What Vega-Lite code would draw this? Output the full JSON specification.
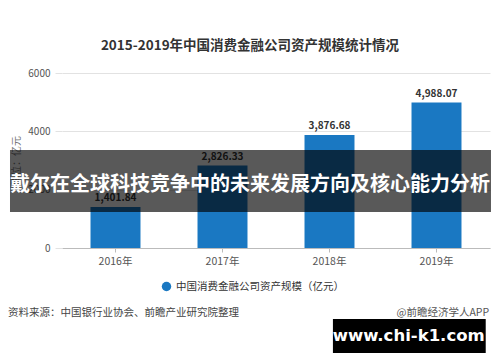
{
  "$schema": "https://vega.github.io/schema/vega-lite/v6.json",
  "width": 428,
  "height": 175,
  "autosize": {"type": "none"},
  "padding": {"left": 62, "top": 73, "right": 10, "bottom": 114},
  "background": "white",
  "config": {
    "view": {"stroke": null},
    "font": "Noto Sans CJK SC"
  },
  "title": {
    "text": "2015-2019年中国消费金融公司资产规模统计情况",
    "fontSize": 13.5,
    "fontWeight": "bold",
    "color": "#333333",
    "anchor": "middle",
    "dx": -26,
    "offset": 16
  },
  "datasets": {
    "main": [
      {"year": "2016年", "value": 1401.84, "label": "1,401.84", "series": "中国消费金融公司资产规模（亿元）"},
      {"year": "2017年", "value": 2826.33, "label": "2,826.33", "series": "中国消费金融公司资产规模（亿元）"},
      {"year": "2018年", "value": 3876.68, "label": "3,876.68", "series": "中国消费金融公司资产规模（亿元）"},
      {"year": "2019年", "value": 4988.07, "label": "4,988.07", "series": "中国消费金融公司资产规模（亿元）"}
    ],
    "banner": [
      {"u1": -0.1215, "u2": 1.0023, "v1": 1234, "v2": 3360}
    ],
    "bannerText": [
      {"u": 0.439, "v": 2150, "text": "戴尔在全球科技竞争中的未来发展方向及核心能力分析"}
    ],
    "blackBox": [
      {"u1": 0.633, "u2": 0.99, "v1": -3600, "v2": -2434}
    ],
    "sourceLeft": [
      {"u": -0.126, "v": -2229, "text": "资料来源：中国银行业协会、前瞻产业研究院整理"}
    ],
    "sourceRight": [
      {"u": 0.998, "v": -2229, "text": "@前瞻经济学人APP"}
    ],
    "site": [
      {"u": 0.81, "v": -3017, "text": "www.chi-k1.com"}
    ]
  },
  "resolve": {"scale": {"x": "independent"}},
  "layer": [
    {
      "data": {"name": "main"},
      "mark": {"type": "bar", "color": "#1a78c2"},
      "encoding": {
        "x": {
          "field": "year", "type": "nominal", "sort": null,
          "scale": {"paddingInner": 0.533, "paddingOuter": 0.2665},
          "axis": {
            "title": null, "labelAngle": 0, "labelFontSize": 10.5, "labelColor": "#555555",
            "domainColor": "#bbbbbb", "tickColor": "#bbbbbb", "tickSize": 4, "labelPadding": 4
          }
        },
        "y": {
          "field": "value", "type": "quantitative",
          "scale": {"domain": [0, 6000], "nice": false},
          "axis": {
            "title": "单位：亿元", "titleFontSize": 10, "titleFontWeight": "normal", "titleColor": "#777777",
            "titlePadding": 6, "format": "d",
            "values": [0, 2000, 4000, 6000], "labelFontSize": 10, "labelColor": "#555555",
            "domain": false, "gridColor": "#e2e2e2", "tickColor": "#e2e2e2", "tickSize": 7, "labelPadding": 5
          }
        },
        "color": {
          "field": "series", "type": "nominal",
          "scale": {"range": ["#1a78c2"]},
          "legend": {
            "title": null, "orient": "none", "legendX": 99, "legendY": 208,
            "symbolType": "circle", "symbolSize": 90, "labelFontSize": 10.5, "labelColor": "#333333",
            "labelFontWeight": "normal", "labelLimit": 400
          }
        }
      }
    },
    {
      "data": {"name": "main"},
      "mark": {"type": "text", "baseline": "bottom", "dy": -4, "fontSize": 10, "fontWeight": "bold", "color": "#333333"},
      "encoding": {
        "x": {"field": "year", "type": "nominal", "sort": null, "scale": {"paddingInner": 0.533, "paddingOuter": 0.2665}, "axis": null},
        "y": {"field": "value", "type": "quantitative"},
        "text": {"field": "label"}
      }
    },
    {
      "data": {"name": "banner"},
      "mark": {"type": "rect", "color": "black", "opacity": 0.65},
      "encoding": {
        "x": {"field": "u1", "type": "quantitative", "scale": {"domain": [0, 1], "nice": false, "zero": false}, "axis": null},
        "x2": {"field": "u2"},
        "y": {"field": "v1", "type": "quantitative"},
        "y2": {"field": "v2"}
      }
    },
    {
      "data": {"name": "bannerText"},
      "mark": {"type": "text", "align": "center", "baseline": "middle", "fontSize": 20, "fontWeight": "bold", "color": "white", "limit": 0},
      "encoding": {
        "x": {"field": "u", "type": "quantitative", "scale": {"domain": [0, 1], "nice": false, "zero": false}, "axis": null},
        "y": {"field": "v", "type": "quantitative"},
        "text": {"field": "text"}
      }
    },
    {
      "data": {"name": "blackBox"},
      "mark": {"type": "rect", "color": "black"},
      "encoding": {
        "x": {"field": "u1", "type": "quantitative", "scale": {"domain": [0, 1], "nice": false, "zero": false}, "axis": null},
        "x2": {"field": "u2"},
        "y": {"field": "v1", "type": "quantitative"},
        "y2": {"field": "v2"}
      }
    },
    {
      "data": {"name": "sourceLeft"},
      "mark": {"type": "text", "align": "left", "baseline": "middle", "fontSize": 10.5, "color": "#444444"},
      "encoding": {
        "x": {"field": "u", "type": "quantitative", "scale": {"domain": [0, 1], "nice": false, "zero": false}, "axis": null},
        "y": {"field": "v", "type": "quantitative"},
        "text": {"field": "text"}
      }
    },
    {
      "data": {"name": "sourceRight"},
      "mark": {"type": "text", "align": "right", "baseline": "middle", "fontSize": 10.5, "color": "#555555"},
      "encoding": {
        "x": {"field": "u", "type": "quantitative", "scale": {"domain": [0, 1], "nice": false, "zero": false}, "axis": null},
        "y": {"field": "v", "type": "quantitative"},
        "text": {"field": "text"}
      }
    },
    {
      "data": {"name": "site"},
      "mark": {"type": "text", "align": "center", "baseline": "middle", "font": "DejaVu Sans", "fontSize": 16.5, "fontWeight": "bold", "color": "white"},
      "encoding": {
        "x": {"field": "u", "type": "quantitative", "scale": {"domain": [0, 1], "nice": false, "zero": false}, "axis": null},
        "y": {"field": "v", "type": "quantitative"},
        "text": {"field": "text"}
      }
    }
  ]
}
